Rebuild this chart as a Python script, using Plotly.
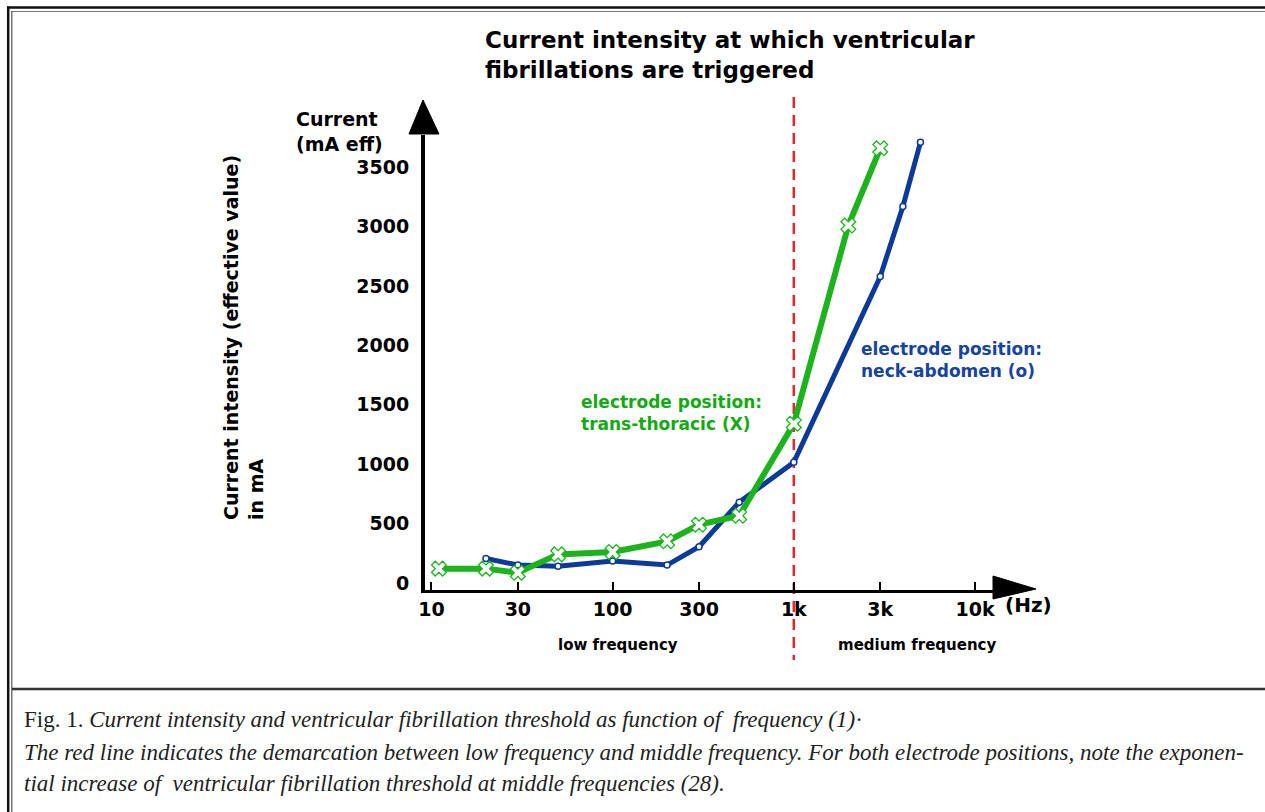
import math
import plotly.graph_objects as go

# ---------------- data ----------------
freq_trans = [11, 20, 30, 50, 100, 200, 300, 500, 1000, 2000, 3000]
current_trans = [120, 120, 85, 240, 260, 350, 490, 565, 1340, 3010, 3660]

freq_neck = [20, 30, 50, 100, 200, 300, 500, 1000, 3000, 4000, 5000]
current_neck = [205, 150, 140, 185, 150, 305, 680, 1015, 2580, 3170, 3710]

x_tick_vals = [10, 30, 100, 300, 1000, 3000, 10000]
x_tick_text = ["10", "30", "100", "300", "1k", "3k", "10k"]
y_tick_vals = [0, 500, 1000, 1500, 2000, 2500, 3000, 3500]
y_tick_text = ["0", "500", "1000", "1500", "2000", "2500", "3000", "3500"]

demarcation_freq = 1000

# ---------------- layout geometry ----------------
W, H = 1265, 812
L, R, T, B = 425, 1000, 135, 590  # plot area in page pixels
X_RANGE = [0.9647, 4.138]         # log10 range of the frequency axis
Y_RANGE = [-60, 3772]


def px(x):
    return (x - L) / (R - L)


def py(y):
    return (B - y) / (B - T)


def freq_to_paper(f):
    return (math.log10(f) - X_RANGE[0]) / (X_RANGE[1] - X_RANGE[0])


GREEN = "#1db31d"
GREEN_TXT = "#12aa12"
BLUE = "#0c3a98"
BLUE_TXT = "#16449e"
RED = "#e8262e"
SANS = "DejaVu Sans"
SERIF = "Liberation Serif"

fig = go.Figure()

fig.add_trace(go.Scatter(
    x=freq_neck, y=current_neck, mode="lines+markers",
    line=dict(color=BLUE, width=5),
    marker=dict(symbol="circle", size=6, color="white",
                line=dict(color=BLUE, width=1.5)),
    name="neck-abdomen", showlegend=False, cliponaxis=False,
))
fig.add_trace(go.Scatter(
    x=freq_trans, y=current_trans, mode="lines+markers",
    line=dict(color=GREEN, width=6),
    marker=dict(symbol="x", size=13, color="white",
                line=dict(color=GREEN, width=1.3)),
    name="trans-thoracic", showlegend=False, cliponaxis=False,
))

shapes = []
# red demarcation line at 1 kHz
xd = freq_to_paper(demarcation_freq)
shapes.append(dict(type="line", xref="paper", yref="paper", layer="below",
                   x0=xd, x1=xd, y0=py(97), y1=py(660),
                   line=dict(color=RED, width=2.5, dash="11px,7px")))
# y-axis arrow head
shapes.append(dict(type="path", xref="paper", yref="paper",
                   path=f"M {px(409)} {py(134)} L {px(423)} {py(100)} L {px(439)} {py(134)} Z",
                   fillcolor="black", line=dict(color="black", width=1)))
# x-axis arrow head
shapes.append(dict(type="path", xref="paper", yref="paper",
                   path=f"M {px(993)} {py(576)} L {px(1036)} {py(589)} L {px(993)} {py(599)} Z",
                   fillcolor="black", line=dict(color="black", width=1)))
# frame
shapes.append(dict(type="line", xref="paper", yref="paper",
                   x0=px(7), x1=px(1266), y0=py(7.5), y1=py(7.5),
                   line=dict(color="#111", width=2.5)))
shapes.append(dict(type="line", xref="paper", yref="paper",
                   x0=px(8.2), x1=px(8.2), y0=py(6.5), y1=py(813),
                   line=dict(color="#111", width=2.5)))
shapes.append(dict(type="line", xref="paper", yref="paper",
                   x0=px(11.5), x1=px(1266), y0=py(11.5), y1=py(11.5),
                   line=dict(color="#777", width=1)))
shapes.append(dict(type="line", xref="paper", yref="paper",
                   x0=px(11.8), x1=px(11.8), y0=py(11), y1=py(813),
                   line=dict(color="#555", width=1.2)))
# caption separator
shapes.append(dict(type="line", xref="paper", yref="paper",
                   x0=px(12), x1=px(1266), y0=py(689), y1=py(689),
                   line=dict(color="#333", width=2.5)))

annotations = []


def ann(text, x, y, size, color="black", xanchor="left", yanchor="middle",
        family=SANS, bold=True, align="left", angle=0):
    annotations.append(dict(
        text=text, xref="paper", yref="paper", x=px(x), y=py(y),
        xanchor=xanchor, yanchor=yanchor, showarrow=False, align=align,
        textangle=angle,
        font=dict(family=family, size=size, color=color,
                  weight="bold" if bold else "normal")))


ann("Current intensity at which ventricular<br>fibrillations are triggered",
    483, 55, 23, yanchor="middle")
ann("Current<br>(mA eff)", 294, 131, 19)
ann("Current intensity (effective value)<br>in mA", 243, 338, 19,
    xanchor="center", angle=-90)
ann("electrode position:<br>trans-thoracic (X)", 579, 413, 17, color=GREEN_TXT)
ann("electrode position:<br>neck-abdomen (o)", 859, 360, 17, color=BLUE_TXT)
ann("low frequency", 618, 645, 15, xanchor="center")
ann("medium frequency", 917, 645, 15, xanchor="center")
ann("(Hz)", 1028, 605, 20, xanchor="center")

ann("Fig. 1. <i>Current intensity and ventricular fibrillation threshold as function of  frequency (1)</i>·",
    22, 720, 23, color="#222", family=SERIF, bold=False)
ann("<i>The red line indicates the demarcation between low frequency and middle frequency. For both electrode positions, note the exponen-</i>",
    22, 752, 23, color="#222", family=SERIF, bold=False)
ann("<i>tial increase of  ventricular fibrillation threshold at middle frequencies (28).</i>",
    22, 783, 23, color="#222", family=SERIF, bold=False)

fig.update_layout(
    width=W, height=H,
    margin=dict(l=L, r=W - R, t=T, b=H - B, pad=0),
    paper_bgcolor="white", plot_bgcolor="white",
    showlegend=False,
    shapes=shapes, annotations=annotations,
    xaxis=dict(
        type="log", range=X_RANGE,
        tickvals=x_tick_vals, ticktext=x_tick_text,
        ticks="inside", ticklen=8, tickwidth=2, tickcolor="black",
        showline=True, linecolor="black", linewidth=3,
        showgrid=False, zeroline=False,
        tickfont=dict(family=SANS, size=19, color="black", weight="bold"),
    ),
    yaxis=dict(
        range=Y_RANGE,
        tickvals=y_tick_vals, ticktext=y_tick_text,
        ticks="", ticklabelstandoff=8,
        showline=True, linecolor="black", linewidth=4,
        showgrid=False, zeroline=False,
        tickfont=dict(family=SANS, size=19, color="black", weight="bold"),
    ),
)

fig.write_html("out.html",
               config={"displayModeBar": False},
               post_script="document.body.style.margin='0';document.body.style.overflow='hidden';")
